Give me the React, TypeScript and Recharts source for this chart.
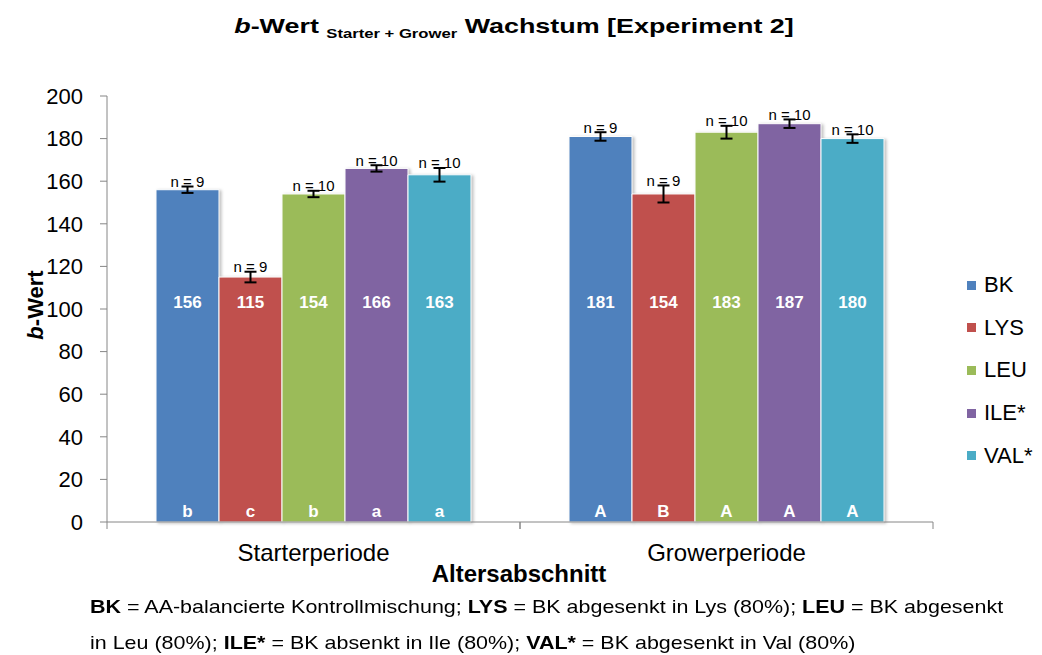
import React from 'react';
import { BarChart, Bar, XAxis, YAxis, ErrorBar, Rectangle } from 'recharts';

const periods = ['Starterperiode', 'Growerperiode'];
const seriesKeys = ['BK', 'LYS', 'LEU', 'ILE', 'VAL'];
const seriesNames = ['BK', 'LYS', 'LEU', 'ILE*', 'VAL*'];
const seriesColors = ['#4F81BD', '#C0504D', '#9BBB59', '#8064A2', '#4BACC6'];

const bkMeans = [156, 181];
const lysMeans = [115, 154];
const leuMeans = [154, 183];
const ileMeans = [166, 187];
const valMeans = [163, 180];

const bkErr = [1.5, 2];
const lysErr = [2.5, 4];
const leuErr = [1.5, 3];
const ileErr = [1.5, 2];
const valErr = [3.2, 2];

const bkN = [9, 9];
const lysN = [9, 9];
const leuN = [10, 10];
const ileN = [10, 10];
const valN = [10, 10];

const bkSig = ['b', 'A'];
const lysSig = ['c', 'B'];
const leuSig = ['b', 'A'];
const ileSig = ['a', 'A'];
const valSig = ['a', 'A'];

const yTicks = [0, 20, 40, 60, 80, 100, 120, 140, 160, 180, 200];

const means = [bkMeans, lysMeans, leuMeans, ileMeans, valMeans];
const errs = [bkErr, lysErr, leuErr, ileErr, valErr];
const ns = [bkN, lysN, leuN, ileN, valN];
const sigs = [bkSig, lysSig, leuSig, ileSig, valSig];

const data = periods.map((p, i) => {
  const row: any = { period: p };
  seriesKeys.forEach((k, s) => {
    row[k] = means[s][i];
    row[k + 'Err'] = errs[s][i];
    row[k + 'N'] = ns[s][i];
    row[k + 'Sig'] = sigs[s][i];
  });
  return row;
});

const FONT = '"Liberation Sans", Arial, sans-serif';
const LABEL_LEVEL = 103; // value level where the numbers sit inside the bars

const makeShape = (key: string) => (props: any) => {
  const { x, y, width, height, fill, payload } = props;
  const v = payload[key];
  const perUnit = height / v;
  const bottom = y + height;
  const cx = x + width / 2;
  const errTop = y - payload[key + 'Err'] * perUnit;
  return (
    <g>
      <Rectangle x={x} y={y} width={width} height={height} fill={fill} stroke="#fff" strokeWidth={1}
        style={{ filter: 'drop-shadow(2px 1px 1.5px rgba(0,0,0,0.25))' }} />
      <text x={cx} y={bottom - LABEL_LEVEL * perUnit} textAnchor="middle" dominantBaseline="central"
        fill="#fff" fontWeight="bold" fontSize={17} fontFamily={FONT}>{v}</text>
      <text x={cx} y={bottom - 11} textAnchor="middle" dominantBaseline="central"
        fill="#fff" fontWeight="bold" fontSize={17} fontFamily={FONT}>{payload[key + 'Sig']}</text>
      <text x={cx} y={errTop - 5} textAnchor="middle" dominantBaseline="central"
        fill="#000" fontSize={15} fontFamily={FONT}>{'n = ' + payload[key + 'N']}</text>
    </g>
  );
};

const PeriodTick = (props: any) => {
  const { x, y, payload } = props;
  const half = payload.offset ?? 0;
  return (
    <g>
      {half > 0 && <line x1={x - half} x2={x - half} y1={y} y2={y + 7} stroke="#868686" />}
      {half > 0 && <line x1={x + half} x2={x + half} y1={y} y2={y + 7} stroke="#868686" />}
      <text x={x} y={y + 30} textAnchor="middle" dominantBaseline="central" fill="#000"
        fontSize={24} fontFamily={FONT}>{payload.value}</text>
    </g>
  );
};

export default function App() {
  return (
    <div style={{ position: 'absolute', left: 0, top: 0, width: 1042, height: 655, background: '#fff', fontFamily: FONT }}>
      <div style={{ position: 'absolute', top: 14, left: 514, transform: 'translateX(-50%) scaleX(1.28)', whiteSpace: 'nowrap', fontSize: 21, fontWeight: 'bold' }}>
        <i>b</i>-Wert <span style={{ fontSize: 13, position: 'relative', top: 5 }}>Starter + Grower</span> Wachstum [Experiment 2]
      </div>
      <BarChart width={1042} height={655} data={data} margin={{ top: 96, right: 109, left: 0, bottom: 0 }}
        barCategoryGap={49} barGap={0}>
        <YAxis domain={[0, 200]} ticks={yTicks} width={107} tickSize={7} tickMargin={17}
          axisLine={{ stroke: '#868686' }} tickLine={{ stroke: '#868686' }}
          tick={{ fill: '#000', fontSize: 22, fontFamily: FONT }} interval={0} />
        <XAxis dataKey="period" height={133} tickSize={0} tickMargin={0} tickLine={false}
          axisLine={{ stroke: '#868686' }} tick={<PeriodTick />} interval={0} />
        {seriesKeys.map((k, s) => (
          <Bar key={k} dataKey={k} name={seriesNames[s]} fill={seriesColors[s]} isAnimationActive={false}
            shape={makeShape(k)}>
            <ErrorBar dataKey={k + 'Err'} width={6} stroke="#000" strokeWidth={2} direction="y" isAnimationActive={false} />
          </Bar>
        ))}
      </BarChart>
      <div style={{ position: 'absolute', left: 36, top: 305, transform: 'translate(-50%, -50%) rotate(-90deg)', fontSize: 22, fontWeight: 'bold', whiteSpace: 'nowrap' }}>
        <i>b</i>-Wert
      </div>
      <div style={{ position: 'absolute', left: 0, width: 1038, top: 560, textAlign: 'center', fontSize: 24, fontWeight: 'bold' }}>
        Altersabschnitt
      </div>
      {seriesNames.map((n, s) => (
        <div key={n} style={{ position: 'absolute', left: 967, top: 285 + s * 42.7 - 13, height: 26, display: 'flex', alignItems: 'center', fontSize: 22 }}>
          <span style={{ display: 'inline-block', width: 9, height: 9, background: seriesColors[s], marginRight: 8 }} />
          {n}
        </div>
      ))}
      <div style={{ position: 'absolute', left: 90, top: 589, fontSize: 19, lineHeight: '36px', whiteSpace: 'nowrap', transform: 'scaleX(1.13)', transformOrigin: 'left top' }}>
        <div><b>BK</b> = AA-balancierte Kontrollmischung; <b>LYS</b> = BK abgesenkt in Lys (80%); <b>LEU</b> = BK abgesenkt</div>
        <div>in Leu (80%); <b>ILE*</b> = BK absenkt in Ile (80%); <b>VAL*</b> = BK abgesenkt in Val (80%)</div>
      </div>
    </div>
  );
}
